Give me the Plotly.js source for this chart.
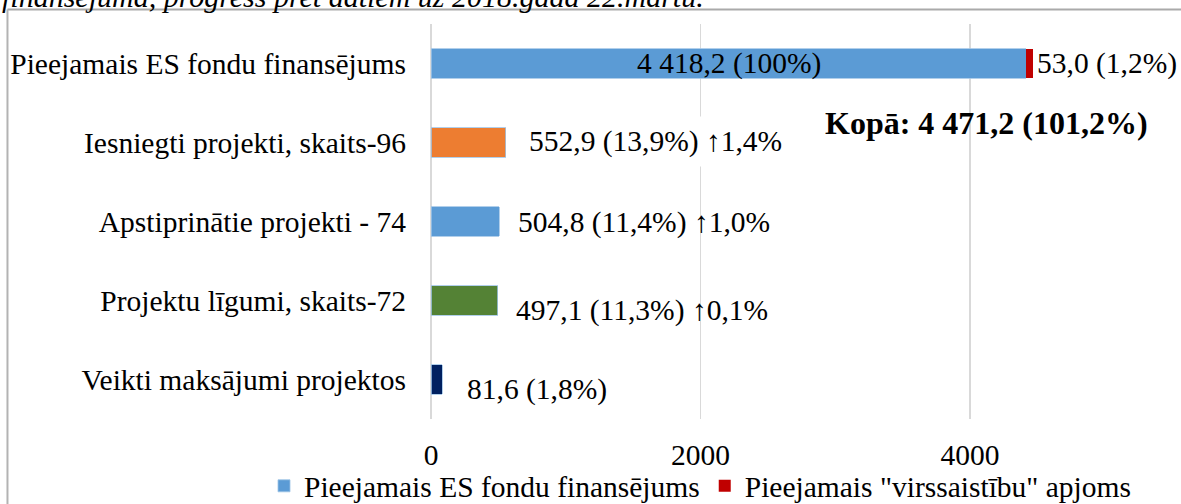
<!DOCTYPE html>
<html>
<head>
<meta charset="utf-8">
<script src="https://cdn.plot.ly/plotly-3.0.1.min.js"></script>
<style>
html,body{margin:0;padding:0;background:#fff;}
#chart{width:1181px;height:504px;}
</style>
</head>
<body>
<div id="chart"></div>
<script>
// ---- data ----
const categories = [
  'Pieejamais ES fondu finansējums',
  'Iesniegti projekti, skaits-96',
  'Apstiprinātie projekti - 74',
  'Projektu līgumi, skaits-72',
  'Veikti maksājumi projektos'
];
const fundValues = [4418.2, 552.9, 504.8, 497.1, 81.6];
const fundShares = ['100%', '13,9%', '11,4%', '11,3%', '1,8%'];
const fundChanges = ['', '↑1,4%', '↑1,0%', '↑0,1%', ''];
const overValues = [53.0, 0, 0, 0, 0];
const overShares = ['1,2%', '', '', '', ''];
const totalShare = '101,2%';
const seriesNames = ['Pieejamais ES fondu finansējums', 'Pieejamais "virssaistību" apjoms'];
const xTickValues = [0, 2000, 4000];
const captionText = 'finansējumā, progress pret datiem uz 2018.gada 22.martu.';

// ---- style ----
const barColors = ['#5B9BD5', '#ED7D31', '#5B9BD5', '#548235', '#002060'];
const overColor = '#C00000';
const FONT = 'Liberation Serif, Times New Roman, serif';
const FS = 29.5;

function fmt(v) {
  const parts = v.toFixed(1).split('.');
  const intPart = parts[0].replace(/\B(?=(\d{3})+(?!\d))/g, ' ');
  return intPart + ',' + parts[1];
}

const traces = [
  {
    type: 'bar', orientation: 'h', name: seriesNames[0],
    y: categories, x: fundValues,
    marker: {color: barColors, line: {color: '#9DC3E6', width: 0.8}},
    hoverinfo: 'skip'
  },
  {
    type: 'bar', orientation: 'h', name: seriesNames[1],
    y: categories, x: overValues,
    marker: {color: overColor},
    hoverinfo: 'skip'
  }
];

// label layout (positions only)
const labelShiftX = [0, 14, 17, 16, 23];
const labelShiftY = [0, 1, -1, -10, -10];

const annotations = [];
categories.forEach((c, i) => {
  const txt = fmt(fundValues[i]) + ' (' + fundShares[i] + ')' + (fundChanges[i] ? ' ' + fundChanges[i] : '');
  if (i === 0) {
    annotations.push({
      xref: 'x', yref: 'y', x: fundValues[i] / 2, y: c, text: txt,
      showarrow: false, xanchor: 'center', yanchor: 'middle',
      font: {family: FONT, size: FS, color: '#000'}
    });
  } else {
    annotations.push({
      xref: 'x', yref: 'y', x: fundValues[i], y: c, text: txt,
      showarrow: false, xanchor: 'left', yanchor: 'middle',
      xshift: labelShiftX[i], yshift: labelShiftY[i],
      bgcolor: i === 1 ? '#ffffff' : 'rgba(0,0,0,0)', borderpad: i === 1 ? 8 : 1,
      font: {family: FONT, size: FS, color: '#000'}
    });
  }
  if (overValues[i] > 0) {
    annotations.push({
      xref: 'x', yref: 'y', x: fundValues[i] + overValues[i], y: c,
      text: fmt(overValues[i]) + ' (' + overShares[i] + ')',
      showarrow: false, xanchor: 'left', yanchor: 'middle', xshift: 2,
      font: {family: FONT, size: FS, color: '#000'}
    });
  }
});
const total = fundValues[0] + overValues[0];
annotations.push({
  xref: 'x', yref: 'y', x: 4126, y: 0.747,
  text: '<b>Kopā: ' + fmt(total) + ' (' + totalShare + ')</b>',
  showarrow: false, xanchor: 'center', yanchor: 'middle',
  font: {family: FONT, size: 32, color: '#000'}
});
annotations.push({
  xref: 'paper', yref: 'paper', x: -0.575, y: 1.022,
  text: '<i>' + captionText + '</i>',
  showarrow: false, xanchor: 'left', yanchor: 'bottom',
  font: {family: FONT, size: 30, color: '#000'}
});

const layout = {
  width: 1181, height: 504,
  margin: {l: 431, r: 0, t: 23.5, b: 84.5, pad: 0, autoexpand: false},
  paper_bgcolor: '#ffffff', plot_bgcolor: '#ffffff',
  barmode: 'stack', bargap: 0.63,
  showlegend: true,
  legend: {
    orientation: 'h', bgcolor: 'rgba(0,0,0,0)',
    x: (264 - 431) / 750, xanchor: 'left', y: -0.17, yanchor: 'middle',
    font: {family: FONT, size: FS, color: '#000'},
    itemclick: false, itemdoubleclick: false, traceorder: 'normal'
  },
  xaxis: {
    range: [0, 5566], tickvals: xTickValues, ticktext: xTickValues.map(String),
    showgrid: true, gridcolor: '#d9d9d9', gridwidth: 1.5,
    zeroline: true, zerolinecolor: '#d9d9d9', zerolinewidth: 1.5,
    showline: false, ticks: '', ticklabelstandoff: 15,
    tickfont: {family: FONT, size: FS, color: '#000'}
  },
  yaxis: {
    type: 'category', autorange: 'reversed',
    showgrid: false, zeroline: false, showline: false, ticks: '',
    ticklabelstandoff: 24,
    tickfont: {family: FONT, size: FS, color: '#000'}
  },
  annotations: annotations,
  shapes: [
    {type: 'line', xref: 'paper', yref: 'paper', x0: -0.5647, x1: 1.05, y0: 1.0366, y1: 1.0366,
     line: {color: '#aaaaaa', width: 2}},
    {type: 'line', xref: 'paper', yref: 'paper', x0: -0.5647, x1: -0.5647, y0: 1.0366, y1: -0.3,
     line: {color: '#b3b3b3', width: 2}}
  ]
};

Plotly.newPlot('chart', traces, layout, {staticPlot: true, displayModeBar: false});
</script>
</body>
</html>
